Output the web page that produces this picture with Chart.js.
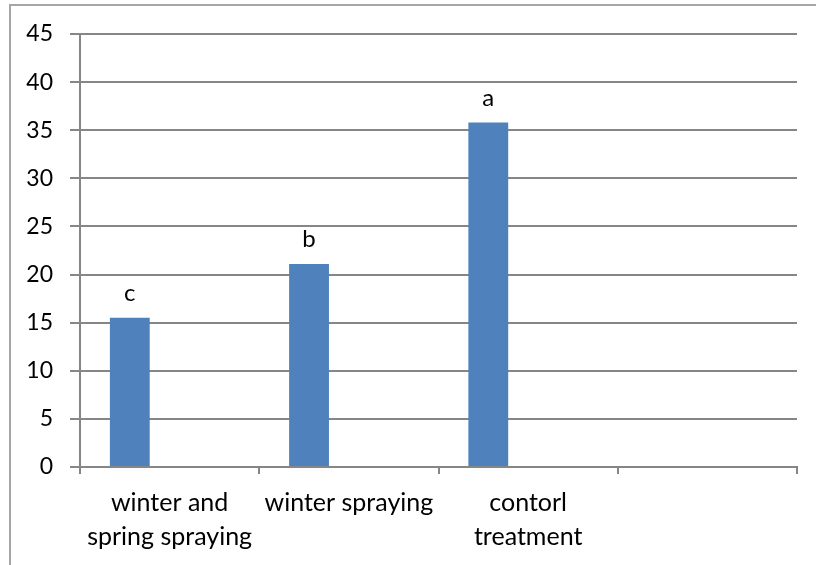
<!DOCTYPE html>
<html>
<head>
<meta charset="utf-8">
<script src="https://cdn.jsdelivr.net/npm/chart.js@4/dist/chart.umd.min.js"></script>
<style>
	html, body { margin: 0; padding: 0; background: #fff; }
	#chart { display: block; }
</style>
</head>
<body>
<canvas id="chart" width="816" height="565"></canvas>
<script>
	'use strict';

	// chart data
	const categories = [['winter and', 'spring spraying'], 'winter spraying', ['contorl', 'treatment'], ''];
	const seriesValues = [15.5, 21.1, 35.8, null];
	const emptySeriesB = [null, null, null, null];
	const emptySeriesC = [null, null, null, null];
	const groupLetters = ['c', 'b', 'a', ''];
	const yMin = 0;
	const yMax = 45;
	const yStep = 5;

	const axisGray = '#868686';
	const barBlue = '#4f81bd';
	const fontFamily = 'Lato, "Open Sans", sans-serif';

	const frameBorder = {
		id: 'frameBorder',
		beforeDraw: function (chart) {
			const ctx = chart.ctx;
			ctx.save();
			ctx.strokeStyle = '#a6a6a6';
			ctx.lineWidth = 2;
			ctx.strokeRect(10, 5, chart.width + 20, chart.height + 20);
			ctx.restore();
		}
	};

	const letterLabels = {
		id: 'letterLabels',
		afterDatasetsDraw: function (chart) {
			const ctx = chart.ctx;
			const meta = chart.getDatasetMeta(0);
			ctx.save();
			ctx.fillStyle = '#000';
			ctx.font = '24px ' + fontFamily;
			ctx.textAlign = 'center';
			ctx.textBaseline = 'alphabetic';
			meta.data.forEach(function (bar, i) {
				if (groupLetters[i] && seriesValues[i] !== null) {
					ctx.fillText(groupLetters[i], bar.x, bar.y - 17);
				}
			});
			ctx.restore();
		}
	};

	new Chart(document.getElementById('chart'), {
		type: 'bar',
		data: {
			labels: categories,
			datasets: [
				{ data: seriesValues, backgroundColor: barBlue },
				{ data: emptySeriesB, backgroundColor: barBlue },
				{ data: emptySeriesC, backgroundColor: barBlue }
			]
		},
		options: {
			responsive: false,
			animation: false,
			devicePixelRatio: 1,
			categoryPercentage: 3 / 4.5,
			barPercentage: 1,
			layout: { padding: { top: 34, right: 19, left: 0, bottom: 0 } },
			plugins: {
				legend: { display: false },
				tooltip: { enabled: false }
			},
			scales: {
				x: {
					offset: true,
					grid: {
						offset: true,
						drawOnChartArea: false,
						drawTicks: true,
						tickLength: 7,
						color: axisGray,
						lineWidth: 2
					},
					border: { color: axisGray, width: 2 },
					ticks: {
						color: '#000',
						font: { family: fontFamily, size: 25, lineHeight: '34px' },
						padding: 12,
						maxRotation: 0,
						autoSkip: false
					},
					afterFit: function (scale) {
						scale.height = 98;
					}
				},
				y: {
					min: yMin,
					max: yMax,
					ticks: {
						stepSize: yStep,
						color: '#000',
						font: { family: fontFamily, size: 23 },
						padding: 17
					},
					grid: {
						color: axisGray,
						lineWidth: 2,
						tickLength: 10
					},
					border: { color: axisGray, width: 2 },
					afterFit: function (scale) {
						scale.width = 80;
					}
				}
			}
		},
		plugins: [frameBorder, letterLabels]
	});
</script>
</body>
</html>
